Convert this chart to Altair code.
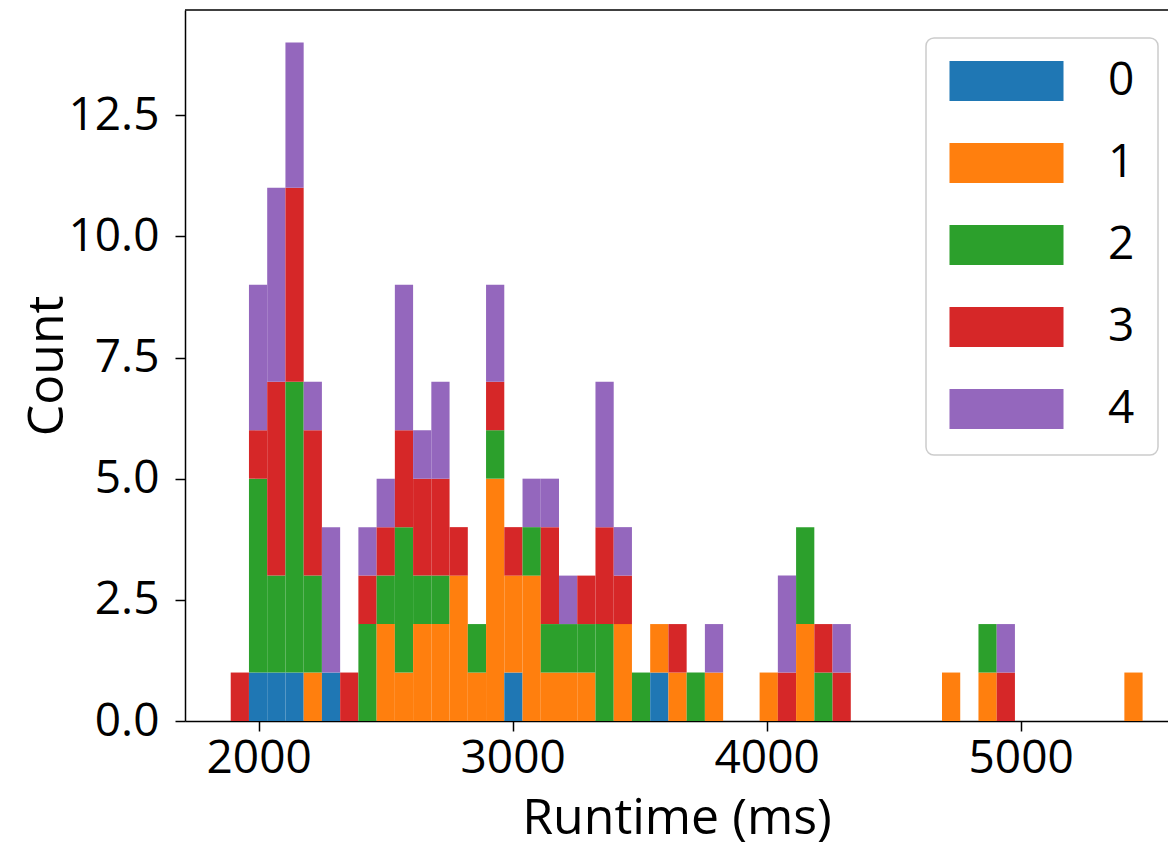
import altair as alt
import pandas as pd

# Histogram bins (50 equal bins spanning the data range)
BIN_START = 1890.0
BIN_WIDTH = 71.8

CATEGORIES = ["0", "1", "2", "3", "4"]
COLORS = ["#1f77b4", "#ff7f0e", "#2ca02c", "#d62728", "#9467bd"]

# counts per bin for each category (50 bins)
counts_0 = [0, 1, 1, 1, 0, 1, 0, 0, 0, 0,
            0, 0, 0, 0, 0, 1, 0, 0, 0, 0,
            0, 0, 0, 1, 0, 0, 0, 0, 0, 0,
            0, 0, 0, 0, 0, 0, 0, 0, 0, 0,
            0, 0, 0, 0, 0, 0, 0, 0, 0, 0]
counts_1 = [0, 0, 0, 0, 1, 0, 0, 0, 2, 1,
            2, 2, 3, 1, 5, 2, 3, 1, 1, 1,
            0, 2, 0, 1, 1, 0, 1, 0, 0, 1,
            0, 2, 0, 0, 0, 0, 0, 0, 0, 1,
            0, 1, 0, 0, 0, 0, 0, 0, 0, 1]
counts_2 = [0, 4, 2, 6, 2, 0, 0, 2, 1, 3,
            1, 1, 0, 1, 1, 0, 1, 1, 1, 1,
            2, 0, 1, 0, 0, 1, 0, 0, 0, 0,
            0, 2, 1, 0, 0, 0, 0, 0, 0, 0,
            0, 1, 0, 0, 0, 0, 0, 0, 0, 0]
counts_3 = [1, 1, 4, 4, 3, 0, 1, 1, 1, 2,
            2, 2, 1, 0, 1, 1, 0, 2, 0, 1,
            2, 1, 0, 0, 1, 0, 0, 0, 0, 0,
            1, 0, 1, 1, 0, 0, 0, 0, 0, 0,
            0, 0, 1, 0, 0, 0, 0, 0, 0, 0]
counts_4 = [0, 3, 4, 3, 1, 3, 0, 1, 1, 3,
            1, 2, 0, 0, 2, 0, 1, 1, 1, 0,
            3, 1, 0, 0, 0, 0, 1, 0, 0, 0,
            2, 0, 0, 1, 0, 0, 0, 0, 0, 0,
            0, 0, 1, 0, 0, 0, 0, 0, 0, 0]

X_TICKS = [2000, 3000, 4000, 5000]
Y_TICKS = [0, 2.5, 5.0, 7.5, 10.0, 12.5]

all_counts = [counts_0, counts_1, counts_2, counts_3, counts_4]
rows = []
n_bins = len(counts_0)
for i in range(n_bins):
    base = 0
    for cat, counts in zip(CATEGORIES, all_counts):
        c = counts[i]
        if c > 0:
            rows.append({
                "bin_start": BIN_START + i * BIN_WIDTH,
                "bin_end": BIN_START + (i + 1) * BIN_WIDTH,
                "y0": base,
                "y1": base + c,
                "group": cat,
            })
        base += c
df = pd.DataFrame(rows)

W, H = 983, 711
FONT = "Open Sans"

bars = alt.Chart(df).mark_bar(strokeWidth=0).encode(
    x=alt.X("bin_start:Q",
            scale=alt.Scale(domain=[1710, 5580], nice=False, zero=False),
            axis=alt.Axis(values=X_TICKS, format="d", title="Runtime (ms)",
                          labelPadding=5, titlePadding=12)),
    x2="bin_end:Q",
    y=alt.Y("y0:Q",
            scale=alt.Scale(domain=[0, 14.67], nice=False),
            axis=alt.Axis(values=Y_TICKS, format=".1f", title="Count",
                          labelPadding=16, titlePadding=-4)),
    y2="y1:Q",
    color=alt.Color("group:N",
                    scale=alt.Scale(domain=CATEGORIES, range=COLORS),
                    legend=alt.Legend(
                        title=None, orient="none", legendX=741, legendY=28,
                        symbolType="M-1,-0.35L1,-0.35L1,0.35L-1,0.35Z",
                        symbolSize=13000, symbolStrokeWidth=0, symbolOpacity=1,
                        clipHeight=40, labelFont=FONT, labelFontSize=46,
                        labelColor="black", labelOffset=44, rowPadding=36,
                        padding=23, strokeColor="#cccccc", fillColor="white",
                        cornerRadius=8)),
)

top_border = alt.Chart(pd.DataFrame({"a": [0]})).mark_rule(
    color="black", strokeWidth=1.5
).encode(x=alt.value(0), x2=alt.value(W), y=alt.value(0))

chart = alt.layer(bars, top_border).properties(
    width=W, height=H,
    padding={"left": 177, "top": 2, "right": 0, "bottom": 130},
    autosize=alt.AutoSizeParams(type="none"),
).configure_view(stroke=None).configure_axis(
    labelFont=FONT, labelFontSize=46, labelColor="black",
    titleFont=FONT, titleFontSize=50, titleFontWeight="normal", titleColor="black",
    domainColor="black", domainWidth=1.5,
    tickColor="black", tickWidth=1.5, tickSize=10, grid=False,
).configure_legend(strokeWidth=1.5)

chart.save("out.html", embed_options={"renderer": "svg", "actions": False})
